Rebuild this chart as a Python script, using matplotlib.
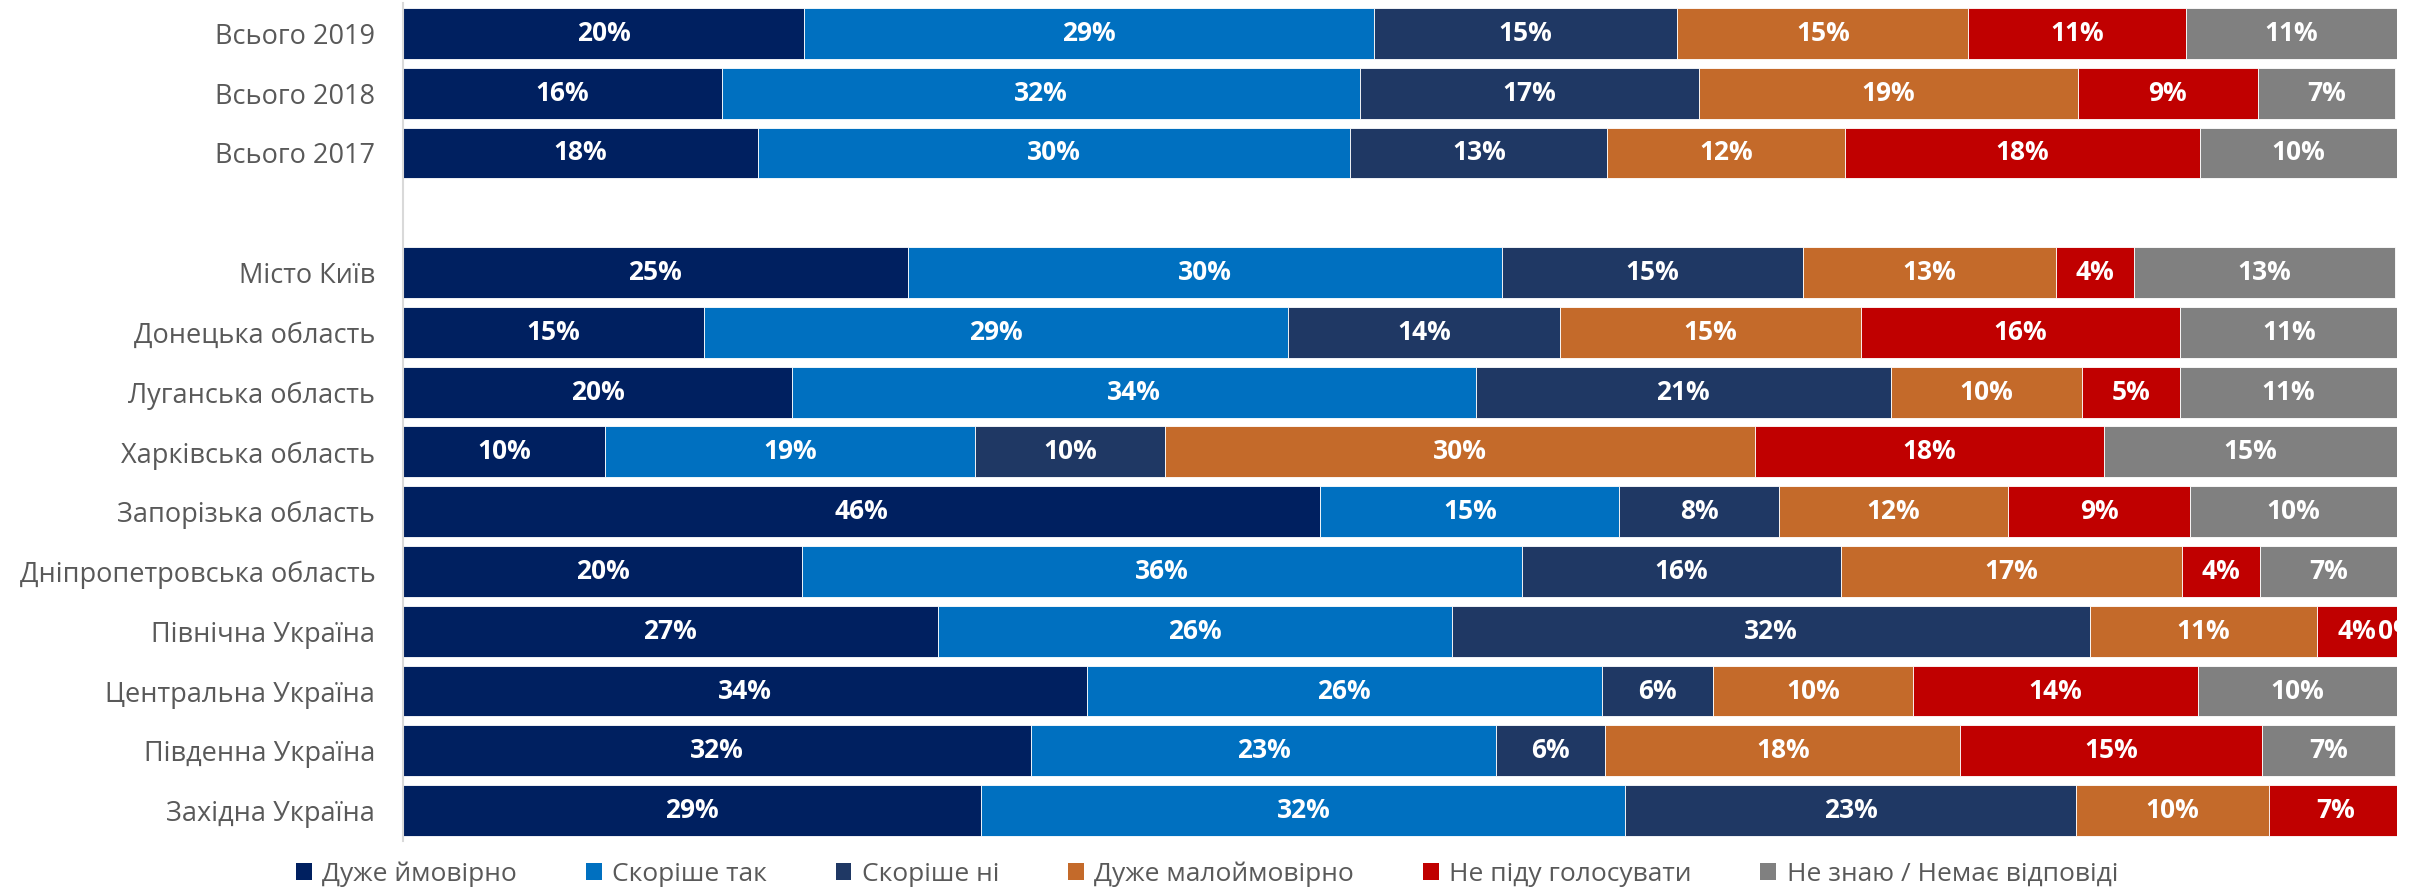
import matplotlib
matplotlib.use('Agg')
import matplotlib.pyplot as plt
from matplotlib.patches import Patch
import numpy as np

plt.rcParams['font.family'] = ['Open Sans', 'DejaVu Sans']

# Категорії (зверху вниз); '' - порожній рядок-розрив
regions = ['Всього 2019', 'Всього 2018', 'Всього 2017', '',
           'Місто Київ', 'Донецька область', 'Луганська область', 'Харківська область',
           'Запорізька область', 'Дніпропетровська область', 'Північна Україна',
           'Центральна Україна', 'Південна Україна', 'Західна Україна']

series = ['Дуже ймовірно', 'Скоріше так', 'Скоріше ні', 'Дуже малоймовірно',
          'Не піду голосувати', 'Не знаю / Немає відповіді']
colors = ['#002060', '#0070C0', '#1F3864', '#C46A2A', '#C00000', '#808080']

nan = np.nan
duzhe_ymovirno = [20.1, 16.0, 17.8, nan, 25.3, 15.1, 19.5, 10.1, 46.0, 20.0, 26.8, 34.3, 31.5, 29.0]
skorishe_tak = [28.6, 32.0, 29.7, nan, 29.8, 29.3, 34.3, 18.6, 15.0, 36.1, 25.8, 25.8, 23.3, 32.3]
skorishe_ni = [15.2, 17.0, 12.9, nan, 15.1, 13.6, 20.8, 9.5, 8.0, 16.0, 32.0, 5.6, 5.5, 22.6]
duzhe_malo = [14.6, 19.0, 11.9, nan, 12.7, 15.1, 9.6, 29.6, 11.5, 17.1, 11.4, 10.0, 17.8, 9.7]
ne_pidu = [10.9, 9.0, 17.8, nan, 3.9, 16.0, 4.9, 17.5, 9.1, 3.9, 4.0, 14.3, 15.1, 6.6]
ne_znayu = [10.6, 6.9, 9.9, nan, 13.1, 11.0, 10.9, 14.7, 10.4, 6.9, 0.0, 10.0, 6.7, nan]

data = [duzhe_ymovirno, skorishe_tak, skorishe_ni, duzhe_malo, ne_pidu, ne_znayu]

fig = plt.figure(figsize=(24.14, 8.94), dpi=100)
ax = fig.add_axes([0.167, 0.0598, 0.826, 0.9363])

y = np.arange(len(regions))
left = np.zeros(len(regions))
for vals, col, name in zip(data, colors, series):
    v = np.array(vals, dtype=float)
    w = np.nan_to_num(v)
    ax.barh(y, w, left=left, height=0.85, color=col, edgecolor='white', linewidth=0.6, label=name)
    for yi, (val, l) in enumerate(zip(v, left)):
        if np.isnan(val):
            continue
        ax.text(l + val / 2, yi, f'{int(val + 0.5)}%', ha='center', va='center',
                color='white', fontsize=19, fontweight='bold', clip_on=False)
    left = left + w

ax.set_xlim(0, 100)
ax.set_ylim(len(regions) - 0.5, -0.5)
ax.set_yticks(y)
ax.set_yticklabels(regions, fontsize=19.5, color='#595959')
ax.tick_params(axis='y', length=0, pad=20)
ax.set_xticks([])
for s in ['top', 'right', 'bottom']:
    ax.spines[s].set_visible(False)
ax.spines['left'].set_color('#D9D9D9')
ax.spines['left'].set_linewidth(1.5)

handles = [Patch(facecolor=c, edgecolor='none') for c in colors]
fig.legend(handles, series, loc='center', bbox_to_anchor=(0.5, 0.022), ncol=6,
           frameon=False, fontsize=19, labelcolor='#595959', handlelength=0.6,
           handleheight=0.6, handletextpad=0.4, columnspacing=2.6)

fig.savefig('out.png', dpi=100)
